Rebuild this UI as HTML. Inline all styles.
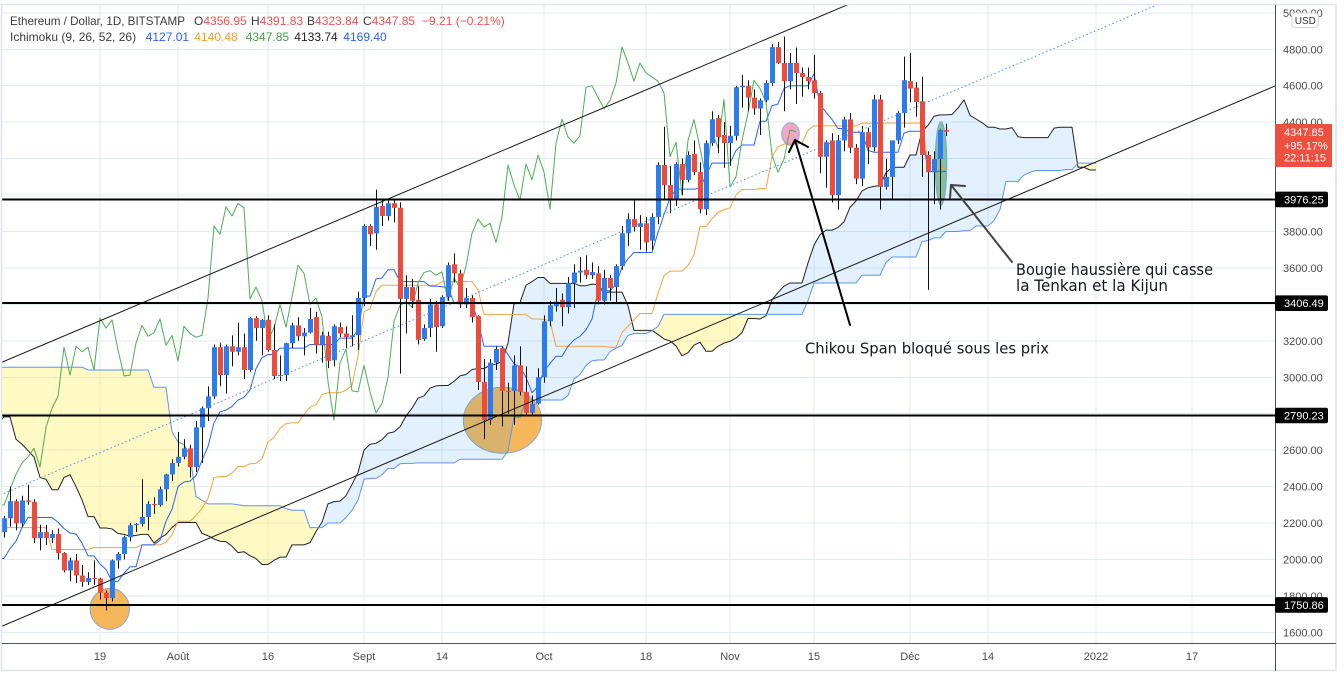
<!DOCTYPE html>
<html><head><meta charset="utf-8"><title>Ethereum / Dollar Ichimoku</title>
<style>html,body{margin:0;padding:0;background:#fff;overflow:hidden}svg{display:block}</style>
</head><body>
<svg xmlns="http://www.w3.org/2000/svg" width="1344" height="678" viewBox="0 0 1344 678" font-family="'Liberation Sans', Arial, sans-serif">
<defs><clipPath id="pc"><rect x="2" y="5" width="1273" height="638"/></clipPath></defs>
<rect width="1344" height="678" fill="#fff"/>
<!-- grid -->
<g stroke="#e3eaf2" stroke-width="1" shape-rendering="crispEdges">
<line x1="2" x2="1275" y1="12.9" y2="12.9"/><line x1="2" x2="1275" y1="49.3" y2="49.3"/><line x1="2" x2="1275" y1="85.7" y2="85.7"/>
<line x1="2" x2="1275" y1="122.2" y2="122.2"/><line x1="2" x2="1275" y1="158.6" y2="158.6"/><line x1="2" x2="1275" y1="195.1" y2="195.1"/>
<line x1="2" x2="1275" y1="231.5" y2="231.5"/><line x1="2" x2="1275" y1="267.9" y2="267.9"/><line x1="2" x2="1275" y1="304.4" y2="304.4"/>
<line x1="2" x2="1275" y1="340.8" y2="340.8"/><line x1="2" x2="1275" y1="377.3" y2="377.3"/><line x1="2" x2="1275" y1="413.7" y2="413.7"/>
<line x1="2" x2="1275" y1="450.1" y2="450.1"/><line x1="2" x2="1275" y1="486.6" y2="486.6"/><line x1="2" x2="1275" y1="523.0" y2="523.0"/>
<line x1="2" x2="1275" y1="559.5" y2="559.5"/><line x1="2" x2="1275" y1="595.9" y2="595.9"/><line x1="2" x2="1275" y1="632.3" y2="632.3"/>
<line y1="5" y2="643" x1="100" x2="100"/><line y1="5" y2="643" x1="178" x2="178"/><line y1="5" y2="643" x1="268" x2="268"/>
<line y1="5" y2="643" x1="364" x2="364"/><line y1="5" y2="643" x1="442" x2="442"/><line y1="5" y2="643" x1="544" x2="544"/>
<line y1="5" y2="643" x1="646" x2="646"/><line y1="5" y2="643" x1="730" x2="730"/><line y1="5" y2="643" x1="814" x2="814"/>
<line y1="5" y2="643" x1="910" x2="910"/><line y1="5" y2="643" x1="988" x2="988"/><line y1="5" y2="643" x1="1096" x2="1096"/>
<line y1="5" y2="643" x1="1192" x2="1192"/>
</g>
<g clip-path="url(#pc)">
 <!-- drawings underneath -->
 <ellipse cx="109.7" cy="608.8" rx="19.7" ry="20.5" fill="#f5b75a" stroke="#86a6d6" stroke-width="1"/>
 <ellipse cx="502.5" cy="420.3" rx="39.2" ry="33" fill="#f5b75a" stroke="#86a6d6" stroke-width="1"/>
 <ellipse cx="790.5" cy="134" rx="8.8" ry="11.2" fill="#f3a6c2" stroke="#8eaee0" stroke-width="1"/>
 <ellipse cx="941" cy="163.5" rx="5.8" ry="41.7" fill="#93c592" stroke="#7ea8e2" stroke-width="1"/>
 <g id="dyn"></g>
 <!-- channel -->
 <line x1="0" y1="363" x2="860" y2="-0.5" stroke="#1a1a1a" stroke-width="1"/>
 <line x1="0" y1="627" x2="1275" y2="86" stroke="#1a1a1a" stroke-width="1"/>
 <line x1="0" y1="495" x2="1160" y2="3.5" stroke="#4f86f0" stroke-width="1" stroke-dasharray="1.5,2.5"/>
 <!-- levels -->
 <g fill="#000" shape-rendering="crispEdges">
  <rect x="2" y="198.4" width="1273" height="2"/>
  <rect x="2" y="302.2" width="1273" height="2"/>
  <rect x="2" y="414.5" width="1273" height="2"/>
  <rect x="2" y="603.9" width="1273" height="2"/>
 </g>
</g>
<!-- annotations -->
<g stroke="#000" stroke-width="2" fill="none" stroke-linecap="round">
 <line x1="850" y1="325" x2="795" y2="140"/>
 <polyline points="789,152 795,140 808,147"/>
</g>
<g stroke="#444" stroke-width="2" fill="none" stroke-linecap="round">
 <line x1="1012" y1="262" x2="951" y2="185"/>
 <polyline points="950,198 951,185 965,186"/>
</g>
<g font-family="'DejaVu Sans', 'Liberation Sans', sans-serif" fill="#131722">
 <text x="805" y="353.5" font-size="15" textLength="244" lengthAdjust="spacingAndGlyphs">Chikou Span bloqué sous les prix</text>
 <text x="1016" y="275" font-size="16" textLength="197" lengthAdjust="spacingAndGlyphs">Bougie haussière qui casse</text>
 <text x="1016" y="291" font-size="16" textLength="152" lengthAdjust="spacingAndGlyphs">la Tenkan et la Kijun</text>
</g>
<!-- axes -->
<rect x="1.5" y="4.5" width="1334.5" height="666" fill="none" stroke="#e0e3eb" stroke-width="1.5"/>
<line x1="1275.5" y1="5" x2="1275.5" y2="671" stroke="#50535e" stroke-width="1"/>
<line x1="2" y1="643.5" x2="1336" y2="643.5" stroke="#50535e" stroke-width="1"/>
<g font-size="11" fill="#4a4a4a">
 <text x="1283" y="17">5000.00</text>
 <text x="1283" y="53.3">4800.00</text>
 <text x="1283" y="89.7">4600.00</text>
 <text x="1283" y="126.2">4400.00</text>
 <text x="1283" y="162.6">4200.00</text>
 <text x="1283" y="235.5">3800.00</text>
 <text x="1283" y="271.9">3600.00</text>
 <text x="1283" y="344.8">3200.00</text>
 <text x="1283" y="381.3">3000.00</text>
 <text x="1283" y="454.1">2600.00</text>
 <text x="1283" y="490.6">2400.00</text>
 <text x="1283" y="527.0">2200.00</text>
 <text x="1283" y="563.5">2000.00</text>
 <text x="1283" y="599.9">1800.00</text>
 <text x="1283" y="636.3">1600.00</text>
</g>
<g font-size="11" fill="#4a4a4a" text-anchor="middle">
 <text x="100" y="660">19</text><text x="178" y="660">Août</text><text x="268" y="660">16</text>
 <text x="364" y="660">Sept</text><text x="442" y="660">14</text><text x="544" y="660">Oct</text>
 <text x="646" y="660">18</text><text x="730" y="660">Nov</text><text x="814" y="660">15</text>
 <text x="910" y="660">Déc</text><text x="988" y="660">14</text><text x="1096" y="660">2022</text>
 <text x="1192" y="660">17</text>
</g>
<!-- USD badge -->
<rect x="1292" y="13" width="26.5" height="14.5" rx="3" fill="#fff" stroke="#d1d4dc" stroke-width="1"/>
<text x="1305.3" y="24" font-size="10" fill="#333" text-anchor="middle">USD</text>
<!-- level boxes -->
<g>
 <rect x="1275" y="191.6" width="53" height="15.6" rx="2" fill="#000"/>
 <rect x="1275" y="295.4" width="53" height="15.6" rx="2" fill="#000"/>
 <rect x="1275" y="407.7" width="53" height="15.6" rx="2" fill="#000"/>
 <rect x="1275" y="597.1" width="53" height="15.6" rx="2" fill="#000"/>
 <rect x="1275" y="124" width="57" height="43" fill="#ef4f3e"/>
</g>
<g font-size="11" fill="#fff">
 <text x="1284" y="203.4">3976.25</text>
 <text x="1284" y="307.2">3406.49</text>
 <text x="1284" y="419.5">2790.23</text>
 <text x="1284" y="608.9">1750.86</text>
 <text x="1284" y="136">4347.85</text>
 <text x="1284" y="149.5">+95.17%</text>
 <text x="1284" y="161.5">22:11:15</text>
</g>
<!-- header -->
<g font-size="12">
 <text x="10" y="25" fill="#3a3a3a" textLength="175" lengthAdjust="spacingAndGlyphs">Ethereum / Dollar, 1D, BITSTAMP</text>
 <text x="194" y="25" fill="#3a3a3a">O<tspan fill="#ef5350">4356.95</tspan></text>
 <text x="251" y="25" fill="#3a3a3a">H<tspan fill="#ef5350">4391.83</tspan></text>
 <text x="307" y="25" fill="#3a3a3a">B<tspan fill="#ef5350">4323.84</tspan></text>
 <text x="363" y="25" fill="#3a3a3a">C<tspan fill="#ef5350">4347.85</tspan></text>
 <text x="422" y="25" fill="#ef5350">−9.21 (−0.21%)</text>
 <text x="10" y="41" fill="#3a3a3a">Ichimoku (9, 26, 52, 26)</text>
 <text x="145.7" y="41" fill="#2962ff">4127.01</text>
 <text x="194.3" y="41" fill="#f59d1e">4140.48</text>
 <text x="245.7" y="41" fill="#43a047">4347.85</text>
 <text x="294.3" y="41" fill="#222">4133.74</text>
 <text x="343.3" y="41" fill="#2962ff">4169.40</text>
</g>
</svg>
<script>
(function(){
var D=[
[2430,2550,2320,2420],[2420,2500,2300,2330],[2330,2340,1950,2240],[2240,2250,2070,2160],[2160,2350,2100,2330],
[2330,2500,2290,2360],[2360,2640,2330,2400],[2400,2440,2100,2360],[2360,2360,2150,2210],[2210,2350,2170,2320],
[2320,2560,2300,2530],[2530,2680,2510,2660],[2660,2760,2560,2750],[2750,2800,2660,2760],[2760,2800,2710,2770],
[2770,2970,2770,2950],[2950,2990,2860,2950],[2950,3460,2950,3430],[3430,3530,3160,3240],[3240,3540,3250,3520],
[3520,3600,3400,3490],[3490,3590,3360,3480],[3480,3970,3470,3900],[3900,4000,3750,3920],[3920,4200,3700,3950],
[3950,4220,3850,4170],[4170,4380,3780,3780],[3780,4080,3500,3710],[3710,4170,3700,4080],[4080,4190,3590,3650],
[3650,3700,3250,3590],[3590,3590,3100,3280],[3280,3560,3260,3380],[3380,3440,1900,2460],[2460,2990,2200,2780],
[2780,2950,2140,2430],[2430,2500,2150,2300],[2300,2380,1730,2100],[2100,2700,2060,2640],[2640,2760,2390,2710],
[2710,2910,2640,2890],[2890,2900,2630,2750],[2750,2770,2350,2420],[2420,2580,2260,2280],[2280,2460,2180,2390],
[2390,2710,2350,2710],
[2710,2740,2550,2630],[2630,2800,2580,2710],[2710,2890,2680,2860],[2860,2860,2550,2690],[2690,2810,2560,2630],
[2630,2740,2600,2710],[2710,2840,2580,2590],[2590,2620,2320,2520],[2520,2620,2450,2610],[2610,2620,2430,2470],
[2470,2480,2350,2360],[2360,2450,2240,2370],[2370,2520,2290,2510],[2510,2600,2450,2580],[2580,2650,2540,2550],
[2550,2400,2340,2360],[2360,2400,2300,2370],[2370,2380,2180,2230],[2230,2280,2150,2170],[2170,2260,2020,2240],
[2240,2250,1880,1890],[1890,2030,1700,1870],[1870,2050,1870,1970],[1970,2040,1900,1990],[1990,2040,1800,1810],
[1810,1880,1720,1830],[1830,1990,1800,1980],[1980,2100,1950,2080],[2080,2210,2050,2160],[2160,2290,2100,2275],
[2275,2280,2100,2110],[2110,2160,2050,2150],
[2150,2240,2120,2226],[2226,2400,2180,2320],[2320,2330,2160,2198],[2198,2350,2180,2324],[2324,2410,2300,2316],
[2316,2330,2090,2117],[2117,2190,2050,2150],[2150,2190,2080,2118],[2118,2160,2090,2140],[2140,2170,2000,2035],
[2035,2040,1930,1940],[1940,2010,1880,1995],[1995,2030,1870,1912],[1912,1970,1850,1877],[1877,1930,1860,1898],
[1898,1995,1860,1895],[1895,1900,1780,1818],[1818,1830,1720,1788],[1788,2000,1770,1995],[1995,2040,1950,2030],
[2030,2130,2000,2122],[2122,2200,2100,2188],[2188,2200,2150,2195],[2195,2440,2180,2233],[2233,2320,2160,2305],
[2305,2340,2250,2298],[2298,2400,2290,2385],[2385,2470,2320,2467],[2467,2550,2430,2530],
[2530,2700,2510,2563],[2563,2660,2550,2610],[2610,2630,2450,2507],[2507,2760,2480,2725],[2725,2840,2530,2830],
[2830,2950,2760,2895],[2895,3180,2880,3165],[3165,3190,2950,3012],[3012,3180,2910,3170],[3170,3230,3060,3140],
[3140,3300,3120,3165],[3165,3240,2990,3040],[3040,3330,3030,3325],[3325,3335,3200,3270],[3270,3320,3120,3315],
[3315,3340,3140,3150],[3150,3290,2990,3007],[3007,3120,2980,3012],[3012,3190,2980,3187],[3187,3300,3160,3285],
[3285,3330,3200,3225],[3225,3270,3120,3245],[3245,3380,3240,3320],[3330,3360,3130,3175],[3175,3250,3080,3230],
[3227,3250,3050,3090],[3093,3290,3060,3280],[3275,3300,3220,3240],[3240,3280,3160,3220],[3220,3340,3170,3230],
[3231,3470,3150,3435],
[3435,3840,3390,3830],[3830,3840,3720,3785],[3790,4030,3700,3935],[3940,3970,3830,3885],[3885,3980,3860,3955],
[3955,3975,3850,3930],[3930,3960,3020,3430],[3430,3560,3240,3495],[3495,3540,3380,3420],[3425,3500,3180,3205],
[3210,3290,3200,3270],[3270,3430,3220,3400],[3400,3420,3140,3275],[3280,3450,3270,3440],[3440,3630,3420,3615],
[3620,3680,3520,3570],[3570,3590,3380,3400],[3400,3490,3380,3435],[3435,3450,3300,3330],[3335,3340,2930,2975],
[2975,3100,2660,2765],[2765,3100,2740,3080],[3080,3170,3040,3155],[3160,3170,2730,2925],[2925,2970,2800,2920],
[2925,3120,2740,3065],[3065,3170,2900,2920],[2920,3060,2790,2805],[2805,2900,2790,2855],[2855,3050,2850,3000],
[3000,3340,2970,3307],[3307,3420,3280,3395],[3390,3490,3360,3415],[3425,3460,3280,3385],[3385,3550,3350,3517],
[3517,3620,3380,3575],[3575,3660,3520,3585],[3590,3670,3540,3560],[3560,3630,3540,3578],[3570,3610,3400,3420],
[3420,3590,3400,3545],[3545,3560,3420,3490],[3495,3620,3410,3610],[3610,3830,3590,3790],[3790,3900,3720,3868],
[3868,3970,3800,3825],[3825,3890,3700,3845],[3845,3880,3690,3740],[3750,3900,3700,3880],[3880,4180,3840,4165],
[4165,4375,3970,4055],[4055,4160,3900,3972],[3972,4180,3940,4170],[4170,4200,4000,4083],[4083,4240,4070,4220],
[4225,4300,4110,4126],[4126,4180,3900,3922],[3922,4300,3890,4285],[4285,4460,4270,4416],[4422,4440,4230,4318],
[4330,4400,4150,4285],
[4285,4380,4160,4325],[4325,4600,4300,4592],[4592,4660,4480,4600],[4600,4630,4460,4535],[4535,4580,4440,4475],
[4475,4530,4330,4520],[4520,4630,4510,4615],[4615,4830,4600,4812],[4812,4840,4720,4725],[4725,4870,4460,4625],
[4625,4780,4580,4725],[4725,4810,4500,4670],[4670,4700,4540,4648],[4648,4700,4580,4625],[4630,4770,4530,4560],
[4560,4570,4120,4210],[4210,4300,4040,4290],[4300,4340,3960,4000],[4000,4330,3920,4300],[4300,4430,4240,4415],
[4415,4450,4230,4260],[4260,4280,4060,4090],[4090,4380,4050,4345],[4345,4370,4170,4262],[4262,4550,4240,4525],
[4525,4550,3920,4045],[4045,4200,4030,4100],[4100,4300,3970,4300],[4300,4460,4280,4450],[4450,4760,4370,4630],
[4625,4780,4510,4585],[4590,4620,4430,4510],[4515,4650,4100,4220],[4220,4240,3480,4125],[4125,4240,3950,4197],
[4197,4360,3920,4357],[4357,4392,4324,4348]
];
var N=D.length,i,k;
function X(i){return 100+6*(i-94);}
function Y(p){return 49.3+(4800-p)*0.1822;}
function f(n){return n.toFixed(2);}
function hh(i,n){var m=-1e9;for(var j=i-n+1;j<=i;j++){if(D[j][1]>m)m=D[j][1];}return m;}
function ll(i,n){var m=1e9;for(var j=i-n+1;j<=i;j++){if(D[j][2]<m)m=D[j][2];}return m;}
var ten=[],kij=[],sa=[],sb=[],cl=[];
for(i=0;i<N;i++){
 cl[i]=D[i][3];
 if(i>=8)ten[i]=(hh(i,9)+ll(i,9))/2;
 if(i>=25){kij[i]=(hh(i,26)+ll(i,26))/2;sa[i]=(ten[i]+kij[i])/2;}
 if(i>=51)sb[i]=(hh(i,52)+ll(i,52))/2;
}
var s='';
var P=[];for(i=51;i<N;i++)P.push({x:X(i+25),a:sa[i],b:sb[i]});
var Q=[P[0]];
for(k=1;k<P.length;k++){var p0=P[k-1],p1=P[k],d0=p0.a-p0.b,d1=p1.a-p1.b;
 if(d0*d1<0){var t=d0/(d0-d1);var v=p0.a+t*(p1.a-p0.a);Q.push({x:p0.x+t*(p1.x-p0.x),a:v,b:v});}
 Q.push(p1);}
var bf=[],bb=[],yf=[],yb=[];
for(k=0;k<Q.length;k++){var q=Q[k];bf.push(f(q.x)+','+f(Y(Math.max(q.a,q.b))));yf.push(f(q.x)+','+f(Y(q.b)));}
for(k=Q.length-1;k>=0;k--){var q2=Q[k];bb.push(f(q2.x)+','+f(Y(q2.b)));yb.push(f(q2.x)+','+f(Y(Math.min(q2.a,q2.b))));}
s+='<polygon points="'+bf.concat(bb).join(' ')+'" fill="#2196f3" fill-opacity="0.13"/>';
s+='<polygon points="'+yf.concat(yb).join(' ')+'" fill="#ffeb3b" fill-opacity="0.3"/>';
function line(arr,sh,from,col){var pts=[];for(var j=from;j<N;j++){if(arr[j]===undefined)continue;var x=X(j+sh);if(x<-20)continue;pts.push(f(x)+','+f(Y(arr[j])));}
 return '<polyline points="'+pts.join(' ')+'" fill="none" stroke="'+col+'" stroke-width="1" stroke-linejoin="round"/>';}
s+=line(sa,25,51,'#222222');
s+=line(sb,25,51,'#5b95ee');
s+=line(kij,0,70,'#f5a33a');
s+=line(ten,0,70,'#2962ff');
s+=line(cl,-25,0,'#4caf50');
for(i=76;i<N;i++){var o=D[i][0],h=D[i][1],l=D[i][2],c=D[i][3],x=X(i);
 var col=c>=o?'#2a7cf0':'#ef4b3a';
 var yh=Y(Math.max(h,o,c)),yl=Y(l),yt=Y(Math.max(o,c)),ybt=Y(Math.min(o,c));
 s+='<rect x="'+x+'" y="'+f(yh)+'" width="1" height="'+f(yl-yh)+'" fill="#111"/>';
 var bh=Math.max(1,ybt-yt);
 s+='<rect x="'+(x-2)+'" y="'+f(yt)+'" width="5" height="'+f(bh)+'" fill="'+col+'"/>';
}
document.getElementById('dyn').innerHTML=s;
})();
</script>
</body></html>
